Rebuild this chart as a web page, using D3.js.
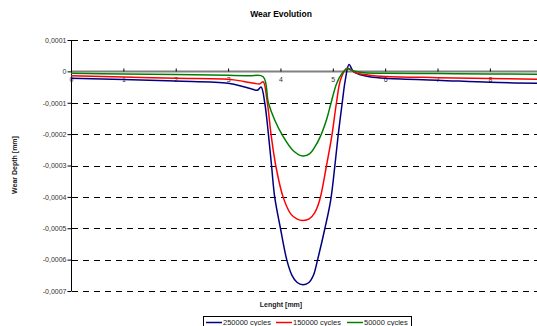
<!DOCTYPE html>
<html>
<head>
<meta charset="utf-8">
<script src="https://cdn.jsdelivr.net/npm/d3@7"></script>
<style>
  body { margin: 0; background: #fff; }
  svg { font-family: "Liberation Sans", Arial, sans-serif; display: block; }
  .tick-label { font-size: 7px; fill: #333; }
  .axis-title { font-size: 7px; font-weight: bold; fill: #222; }
</style>
</head>
<body>
<div id="chart"></div>
<script>
/*
* Wear evolution chart
*/

const W = 537, H = 326;

// lengths [mm] and wear depths [mm] per series
const blueX = [0, 1, 2, 3, 3.3, 3.45, 3.56, 3.63, 3.7, 3.77, 3.83, 3.89, 4.0, 4.12, 4.22, 4.32, 4.43, 4.55, 4.63, 4.71, 4.85, 4.96, 5.04, 5.1, 5.18, 5.24, 5.31, 5.39, 5.51, 5.7, 6, 7, 8, 8.9];
const blueY = [-0.000022, -0.000026, -0.000031, -0.000038, -0.000049, -0.000056, -0.00006, -0.00005, -0.0001, -0.0002, -0.0003, -0.0004, -0.0005, -0.0006, -0.00065, -0.000673, -0.00068, -0.000672, -0.00065, -0.0006, -0.0005, -0.00041, -0.0003, -0.000207, -0.0001, -0.000026, 0.000022, 0, -0.00001, -0.000017, -0.000022, -0.000028, -0.000035, -0.000038];

const redX = [0, 1, 2, 3, 3.3, 3.5, 3.6, 3.67, 3.75, 3.82, 3.91, 4.05, 4.2, 4.32, 4.43, 4.55, 4.65, 4.75, 4.88, 4.98, 5.07, 5.15, 5.27, 5.45, 5.7, 6, 7, 8, 8.9];
const redY = [-0.000014, -0.000018, -0.000022, -0.000025, -0.000032, -0.000038, -0.00004, -0.000033, -0.0001, -0.0002, -0.0003, -0.0004, -0.000455, -0.000471, -0.000475, -0.00047, -0.000452, -0.00041, -0.0003, -0.000207, -0.0001, -0.000026, 0.00001, -0.000005, -0.000012, -0.000016, -0.00002, -0.000023, -0.000025];

const greenX = [0, 1, 2, 3, 3.4, 3.67, 3.77, 3.89, 4.05, 4.24, 4.43, 4.56, 4.66, 4.75, 4.88, 4.96, 5.07, 5.17, 5.27, 5.4, 5.6, 6, 7, 8, 8.9];
const greenY = [-0.000006, -0.000008, -0.00001, -0.000012, -0.000014, -0.000017, -0.0001, -0.000155, -0.000207, -0.000252, -0.00027, -0.000262, -0.00024, -0.000212, -0.000154, -0.000105, -0.00004, -0.000008, 0.000008, 0.000001, -0.000004, -0.000006, -0.000007, -0.000008, -0.000009];

const series = [
  { name: '250000 cycles', color: '#000080', xs: blueX, ys: blueY },
  { name: '150000 cycles', color: '#ff0000', xs: redX, ys: redY },
  { name: '50000 cycles', color: '#008000', xs: greenX, ys: greenY }
];

const yTicks = [0.0001, 0, -0.0001, -0.0002, -0.0003, -0.0004, -0.0005, -0.0006, -0.0007];
const xTicks = [0, 1, 2, 3, 4, 5, 6, 7, 8];

const x = d3.scaleLinear().domain([0, 8.9]).range([71, 537]);
const y = d3.scaleLinear().domain([-0.0007, 0.0001]).range([291, 40]);

const locale = d3.formatLocale({ decimal: ',', thousands: '.', grouping: [3], currency: ['', ''], minus: '-' });
const fmt = locale.format('.4f');

const svg = d3.select('#chart').append('svg')
  .attr('width', W)
  .attr('height', H);

// title
svg.append('text')
  .attr('x', 281).attr('y', 17)
  .attr('text-anchor', 'middle')
  .style('font-size', '8.5px').style('font-weight', 'bold')
  .text('Wear Evolution');

// dashed grid
svg.selectAll('.grid')
  .data(yTicks.filter(d => d !== 0))
  .enter().append('line')
  .attr('x1', 72).attr('x2', W)
  .attr('y1', d => Math.round(y(d)) + 0.5)
  .attr('y2', d => Math.round(y(d)) + 0.5)
  .attr('stroke', '#000')
  .attr('stroke-dasharray', '6,5');

// zero line
svg.append('line')
  .attr('x1', 71).attr('x2', W)
  .attr('y1', Math.round(y(0)) + 0.5).attr('y2', Math.round(y(0)) + 0.5)
  .attr('stroke', '#808080').attr('stroke-width', 2);

// y axis
const yAxis = d3.axisLeft(y)
  .tickValues(yTicks)
  .tickSize(4)
  .tickFormat(d => d === 0 ? '0' : fmt(d));
const gy = svg.append('g')
  .attr('transform', 'translate(71.5,0)')
  .call(yAxis);
gy.select('.domain').attr('stroke', '#000').attr('d', 'M0,' + y(0.0001) + 'V' + y(-0.0007));
gy.selectAll('.tick text').attr('class', 'tick-label').attr('x', -5).style('font-size', '7px');

// x axis on the zero line, ticks upward, labels below
const xAxis = d3.axisBottom(x)
  .tickValues(xTicks)
  .tickSize(-3)
  .tickFormat(d3.format('d'));
const gx = svg.append('g')
  .attr('transform', 'translate(0,' + (Math.round(y(0)) + 0.5) + ')')
  .call(xAxis);
gx.select('.domain').remove();
gx.selectAll('.tick line').attr('stroke', '#000');
gx.selectAll('.tick text').attr('class', 'tick-label').attr('y', 6).attr('dy', '0.71em').style('font-size', '7px');

// series lines
const line = d3.line()
  .x(d => x(d[0]))
  .y(d => y(d[1]))
  .curve(d3.curveCatmullRom.alpha(0.5));

series.forEach(function (s) {
  const pts = s.xs.map((v, i) => [v, s.ys[i]]);
  svg.append('path')
    .datum(pts)
    .attr('fill', 'none')
    .attr('stroke', s.color)
    .attr('stroke-width', 1.5)
    .attr('d', line);
});

// axis titles
svg.append('text')
  .attr('class', 'axis-title')
  .attr('x', 281).attr('y', 307)
  .attr('text-anchor', 'middle')
  .text('Lenght [mm]');

svg.append('text')
  .attr('class', 'axis-title')
  .attr('transform', 'translate(17,165) rotate(-90)')
  .attr('text-anchor', 'middle')
  .text('Wear Depth [mm]');

// legend
const legend = svg.append('g').attr('transform', 'translate(203.5,316.5)');
legend.append('rect')
  .attr('width', 208).attr('height', 14)
  .attr('fill', '#fff').attr('stroke', '#000');

const legX = [2.5, 72.5, 143.5];
series.forEach(function (s, i) {
  const g = legend.append('g').attr('transform', 'translate(' + legX[i] + ',0)');
  g.append('line')
    .attr('x1', 0).attr('x2', 16)
    .attr('y1', 6).attr('y2', 6)
    .attr('stroke', s.color).attr('stroke-width', 1.5);
  g.append('text')
    .attr('x', 17).attr('y', 8.5)
    .style('font-size', '7.5px').style('fill', '#222')
    .text(s.name);
});
</script>
</body>
</html>
